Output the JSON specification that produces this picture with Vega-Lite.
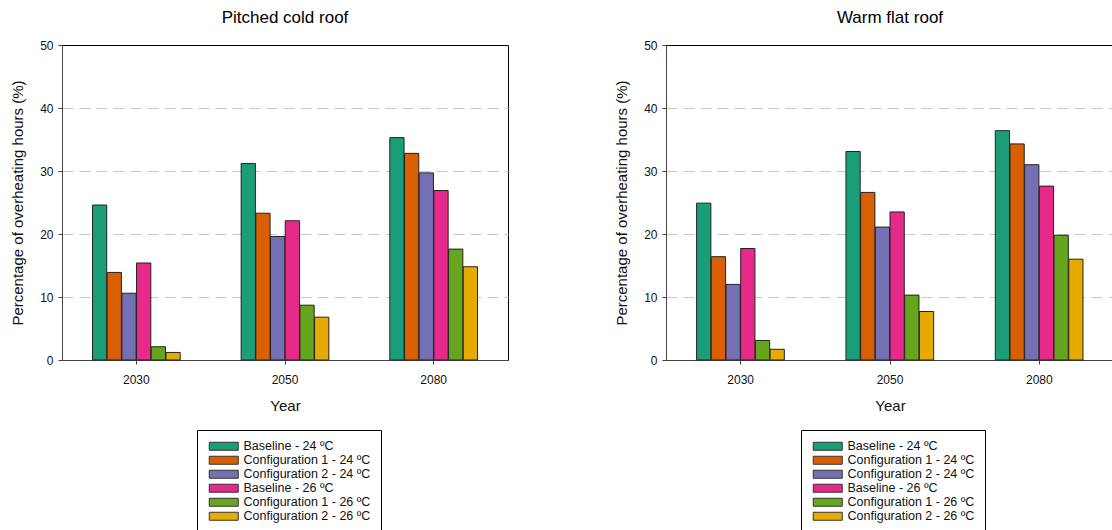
{
  "$schema": "https://vega.github.io/schema/vega-lite/v6.json",
  "padding": {"left": 10, "top": 8, "right": 0, "bottom": 0},
  "background": "white",
  "datasets": {
    "pitched": [
      {"year": "2030", "series": "Baseline - 24 ºC", "value": 24.6},
      {"year": "2030", "series": "Configuration 1 - 24 ºC", "value": 13.9},
      {"year": "2030", "series": "Configuration 2 - 24 ºC", "value": 10.6},
      {"year": "2030", "series": "Baseline - 26 ºC", "value": 15.4},
      {"year": "2030", "series": "Configuration 1 - 26 ºC", "value": 2.1},
      {"year": "2030", "series": "Configuration 2 - 26 ºC", "value": 1.2},
      {"year": "2050", "series": "Baseline - 24 ºC", "value": 31.2},
      {"year": "2050", "series": "Configuration 1 - 24 ºC", "value": 23.3},
      {"year": "2050", "series": "Configuration 2 - 24 ºC", "value": 19.6},
      {"year": "2050", "series": "Baseline - 26 ºC", "value": 22.1},
      {"year": "2050", "series": "Configuration 1 - 26 ºC", "value": 8.7},
      {"year": "2050", "series": "Configuration 2 - 26 ºC", "value": 6.8},
      {"year": "2080", "series": "Baseline - 24 ºC", "value": 35.3},
      {"year": "2080", "series": "Configuration 1 - 24 ºC", "value": 32.8},
      {"year": "2080", "series": "Configuration 2 - 24 ºC", "value": 29.7},
      {"year": "2080", "series": "Baseline - 26 ºC", "value": 26.9},
      {"year": "2080", "series": "Configuration 1 - 26 ºC", "value": 17.6},
      {"year": "2080", "series": "Configuration 2 - 26 ºC", "value": 14.8}
    ],
    "warm": [
      {"year": "2030", "series": "Baseline - 24 ºC", "value": 24.9},
      {"year": "2030", "series": "Configuration 1 - 24 ºC", "value": 16.4},
      {"year": "2030", "series": "Configuration 2 - 24 ºC", "value": 12.0},
      {"year": "2030", "series": "Baseline - 26 ºC", "value": 17.7},
      {"year": "2030", "series": "Configuration 1 - 26 ºC", "value": 3.1},
      {"year": "2030", "series": "Configuration 2 - 26 ºC", "value": 1.7},
      {"year": "2050", "series": "Baseline - 24 ºC", "value": 33.1},
      {"year": "2050", "series": "Configuration 1 - 24 ºC", "value": 26.6},
      {"year": "2050", "series": "Configuration 2 - 24 ºC", "value": 21.1},
      {"year": "2050", "series": "Baseline - 26 ºC", "value": 23.5},
      {"year": "2050", "series": "Configuration 1 - 26 ºC", "value": 10.3},
      {"year": "2050", "series": "Configuration 2 - 26 ºC", "value": 7.7},
      {"year": "2080", "series": "Baseline - 24 ºC", "value": 36.4},
      {"year": "2080", "series": "Configuration 1 - 24 ºC", "value": 34.3},
      {"year": "2080", "series": "Configuration 2 - 24 ºC", "value": 31.0},
      {"year": "2080", "series": "Baseline - 26 ºC", "value": 27.6},
      {"year": "2080", "series": "Configuration 1 - 26 ºC", "value": 19.8},
      {"year": "2080", "series": "Configuration 2 - 26 ºC", "value": 16.0}
    ]
  },
  "config": {
    "font": "Liberation Sans",
    "view": {"stroke": "#000", "strokeWidth": 1},
    "title": {"fontSize": 17, "fontWeight": "normal", "color": "#000", "offset": 12, "anchor": "middle"},
    "axis": {
      "labelFont": "Liberation Sans",
      "titleFont": "Liberation Sans",
      "labelFontSize": 12,
      "titleFontSize": 15,
      "titleFontWeight": "normal",
      "labelColor": "#111",
      "titleColor": "#111",
      "domainColor": "#444",
      "tickColor": "#444",
      "tickSize": 4
    },
    "legend": {
      "labelFont": "Liberation Sans",
      "labelFontSize": 12.5,
      "labelColor": "#111"
    }
  },
  "resolve": {"scale": {"color": "independent"}, "legend": {"color": "independent"}},
  "spacing": 105,
  "hconcat": [
    {
      "width": 446,
      "height": 315,
      "title": "Pitched cold roof",
      "data": {"name": "pitched"},
      "mark": {"type": "bar", "stroke": "#222", "strokeWidth": 1},
      "encoding": {
        "x": {
          "field": "year", "type": "nominal",
          "scale": {"paddingInner": 0.41, "paddingOuter": 0.205},
          "axis": {"title": "Year", "labelAngle": 0, "labelPadding": 10, "titlePadding": 13, "grid": false}
        },
        "xOffset": {
          "field": "series", "type": "nominal",
          "sort": ["Baseline - 24 ºC", "Configuration 1 - 24 ºC", "Configuration 2 - 24 ºC", "Baseline - 26 ºC", "Configuration 1 - 26 ºC", "Configuration 2 - 26 ºC"],
          "scale": {"paddingInner": 0.03}
        },
        "y": {
          "field": "value", "type": "quantitative",
          "scale": {"domain": [0, 50], "nice": false},
          "axis": {"title": "Percentage of overheating hours (%)", "values": [0, 10, 20, 30, 40, 50], "grid": true, "gridColor": "#c8c8c8", "gridDash": [11, 6], "gridOpacity": {"condition": {"test": "datum.value === 0 || datum.value === 50", "value": 0}, "value": 1}, "labelPadding": 5, "titlePadding": 14}
        },
        "color": {
          "field": "series", "type": "nominal",
          "sort": ["Baseline - 24 ºC", "Configuration 1 - 24 ºC", "Configuration 2 - 24 ºC", "Baseline - 26 ºC", "Configuration 1 - 26 ºC", "Configuration 2 - 26 ºC"],
          "scale": {"range": ["#1b9e77", "#d95f02", "#7570b3", "#e7298a", "#66a61e", "#e6ab02"]},
          "legend": {
            "title": null, "orient": "none", "legendX": 135, "legendY": 385,
            "direction": "vertical", "columns": 1,
            "strokeColor": "#000", "fillColor": "#fff", "padding": 10,
            "symbolType": "M-1,-1H6.25V1H-1Z", "symbolSize": 64,
            "symbolStrokeColor": "#333", "symbolStrokeWidth": 1, "symbolOpacity": 1,
            "labelOffset": 24, "rowPadding": 1
          }
        }
      }
    },
    {
      "width": 448,
      "height": 315,
      "title": "Warm flat roof",
      "data": {"name": "warm"},
      "mark": {"type": "bar", "stroke": "#222", "strokeWidth": 1},
      "encoding": {
        "x": {
          "field": "year", "type": "nominal",
          "scale": {"paddingInner": 0.41, "paddingOuter": 0.205},
          "axis": {"title": "Year", "labelAngle": 0, "labelPadding": 10, "titlePadding": 13, "grid": false}
        },
        "xOffset": {
          "field": "series", "type": "nominal",
          "sort": ["Baseline - 24 ºC", "Configuration 1 - 24 ºC", "Configuration 2 - 24 ºC", "Baseline - 26 ºC", "Configuration 1 - 26 ºC", "Configuration 2 - 26 ºC"],
          "scale": {"paddingInner": 0.03}
        },
        "y": {
          "field": "value", "type": "quantitative",
          "scale": {"domain": [0, 50], "nice": false},
          "axis": {"title": "Percentage of overheating hours (%)", "values": [0, 10, 20, 30, 40, 50], "grid": true, "gridColor": "#c8c8c8", "gridDash": [11, 6], "gridOpacity": {"condition": {"test": "datum.value === 0 || datum.value === 50", "value": 0}, "value": 1}, "labelPadding": 5, "titlePadding": 14}
        },
        "color": {
          "field": "series", "type": "nominal",
          "sort": ["Baseline - 24 ºC", "Configuration 1 - 24 ºC", "Configuration 2 - 24 ºC", "Baseline - 26 ºC", "Configuration 1 - 26 ºC", "Configuration 2 - 26 ºC"],
          "scale": {"range": ["#1b9e77", "#d95f02", "#7570b3", "#e7298a", "#66a61e", "#e6ab02"]},
          "legend": {
            "title": null, "orient": "none", "legendX": 135, "legendY": 385,
            "direction": "vertical", "columns": 1,
            "strokeColor": "#000", "fillColor": "#fff", "padding": 10,
            "symbolType": "M-1,-1H6.25V1H-1Z", "symbolSize": 64,
            "symbolStrokeColor": "#333", "symbolStrokeWidth": 1, "symbolOpacity": 1,
            "labelOffset": 24, "rowPadding": 1
          }
        }
      }
    }
  ]
}
